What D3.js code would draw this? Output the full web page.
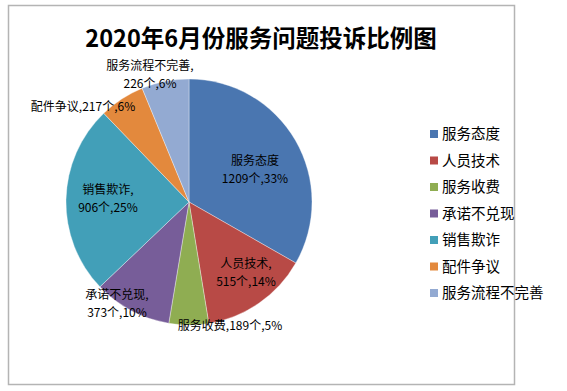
<!DOCTYPE html>
<html>
<head>
<meta charset="utf-8">
<script src="https://cdn.jsdelivr.net/npm/d3@7"></script>
<style>
  body { margin: 0; background: #fff; }
  text { font-family: "Noto Sans CJK SC", "Noto Sans", sans-serif; fill: #000; }
</style>
</head>
<body>
<svg width="567" height="391"></svg>
<script>
const categories = ["服务态度", "人员技术", "服务收费", "承诺不兑现", "销售欺诈", "配件争议", "服务流程不完善"];
const counts = [1209, 515, 189, 373, 906, 217, 226];
const percents = ["33%", "14%", "5%", "10%", "25%", "6%", "6%"];
const colors = ["#4a76b0", "#b84a46", "#8fad52", "#775d99", "#429fb8", "#e3893d", "#93aad2"];

// label anchor (x, first line y) and how each label wraps
const labelPos = [
  { x: 255, y: 165, lines: d => [d.cat, d.n + "个," + d.p] },
  { x: 246, y: 268, lines: d => [d.cat + ",", d.n + "个," + d.p] },
  { x: 230, y: 330, lines: d => [d.cat + "," + d.n + "个," + d.p] },
  { x: 117, y: 299, lines: d => [d.cat + ",", d.n + "个," + d.p] },
  { x: 108, y: 194, lines: d => [d.cat + ",", d.n + "个," + d.p] },
  { x: 83, y: 111, lines: d => [d.cat + "," + d.n + "个," + d.p] },
  { x: 150, y: 70, lines: d => [d.cat + ",", d.n + "个," + d.p] }
];

const svg = d3.select("svg");

svg.append("rect")
  .attr("x", 8.5).attr("y", 5.5)
  .attr("width", 506).attr("height", 379)
  .attr("fill", "#fff")
  .attr("stroke", "#b4b4b4")
  .attr("stroke-width", 1.5);

svg.append("text")
  .attr("x", 261).attr("y", 47)
  .attr("text-anchor", "middle")
  .attr("font-size", 23.5)
  .attr("font-weight", "bold")
  .text("2020年6月份服务问题投诉比例图");

const data = categories.map((c, i) => ({ cat: c, n: counts[i], p: percents[i], i }));

const cx = 189, cy = 202, r = 123;
const pie = d3.pie().value(d => d.n).sort(null);
const arc = d3.arc().innerRadius(0).outerRadius(r);

const g = svg.append("g").attr("transform", `translate(${cx},${cy})`);
g.selectAll("path")
  .data(pie(data))
  .enter().append("path")
    .attr("d", arc)
    .attr("fill", d => colors[d.data.i])
    .attr("stroke", "#fff")
    .attr("stroke-opacity", 0.5)
    .attr("stroke-width", 0.7);

const labels = svg.append("g");
data.forEach((d, i) => {
  const pos = labelPos[i];
  pos.lines(d).forEach((line, k) => {
    labels.append("text")
      .attr("x", pos.x)
      .attr("y", pos.y + k * 17.5)
      .attr("text-anchor", "middle")
      .attr("font-size", 12)
      .text(line);
  });
});

const legend = svg.append("g");
const ly = d3.scalePoint().domain(categories).range([134, 293]);
categories.forEach((c, i) => {
  legend.append("rect")
    .attr("x", 430).attr("y", ly(c) - 4)
    .attr("width", 8).attr("height", 8)
    .attr("fill", colors[i]);
  legend.append("text")
    .attr("x", 442).attr("y", ly(c) + 5)
    .attr("font-size", 14.5)
    .text(c);
});
</script>
</body>
</html>
